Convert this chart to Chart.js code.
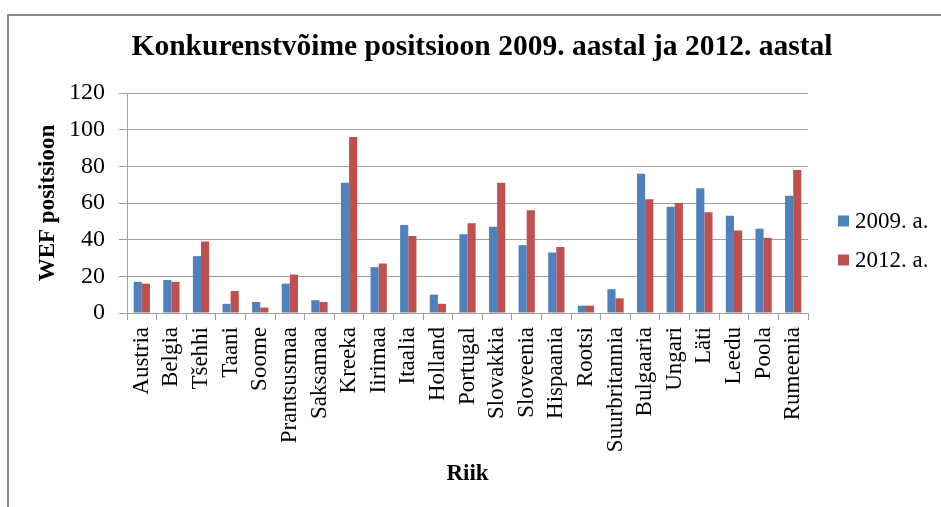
<!DOCTYPE html>
<html>
<head>
<meta charset="utf-8">
<script src="https://cdn.jsdelivr.net/npm/chart.js@4.4.1/dist/chart.umd.min.js"></script>
<style>
  html, body { margin: 0; padding: 0; background: #fff; overflow: hidden; }
  #frame { position: absolute; left: 7px; top: 14px; width: 1000px; height: 600px; border: 2px solid #8a8a8a; }
  #c { position: absolute; left: 0; top: 0; }
</style>
</head>
<body>
<div id="frame"></div>
<canvas id="c" width="941" height="507"></canvas>
<script>
// Andmed: WEF konkurentsivõime positsioon
const riigid = ['Austria', 'Belgia', 'Tšehhi', 'Taani', 'Soome', 'Prantsusmaa', 'Saksamaa', 'Kreeka',
    'Iirimaa', 'Itaalia', 'Holland', 'Portugal', 'Slovakkia', 'Sloveenia', 'Hispaania', 'Rootsi',
    'Suurbritannia', 'Bulgaaria', 'Ungari', 'Läti', 'Leedu', 'Poola', 'Rumeenia'];
const pos2009 = [17, 18, 31, 5, 6, 16, 7, 71, 25, 48, 10, 43, 47, 37, 33, 4, 13, 76, 58, 68, 53, 46, 64];
const pos2012 = [16, 17, 39, 12, 3, 21, 6, 96, 27, 42, 5, 49, 71, 56, 36, 4, 8, 62, 60, 55, 45, 41, 78];
const seeriad = ['2009. a.', '2012. a.'];
const varvid = ['#4f81bd', '#c0504d'];
const yMin = 0, yMax = 120, ySamm = 20;

const FONT = "'Liberation Serif', 'Times New Roman', serif";
const joon = '#a0a0a0';

// legend paremal, joonistatakse ise (Exceli paigutus)
const legendPlugin = {
    id: 'excelLegend',
    afterLayout(chart) {
        // pealkiri keskele kogu laiusele, mitte ainult joonise alale
        chart.titleBlock.left = 23;
        chart.titleBlock.right = 941;
    },
    afterDraw(chart) {
        const ctx = chart.ctx;
        ctx.save();
        ctx.font = '23px ' + FONT;
        ctx.textBaseline = 'middle';
        chart.data.datasets.forEach((ds, i) => {
            const y = 221 + i * 39;
            ctx.fillStyle = ds.backgroundColor;
            ctx.fillRect(838, y - 5.5, 11, 11);
            ctx.fillStyle = '#000';
            ctx.fillText(ds.label, 855, y + 1);
        });
        ctx.restore();
    }
};

new Chart(document.getElementById('c'), {
    type: 'bar',
    data: {
        labels: riigid,
        datasets: [
            { label: seeriad[0], data: pos2009, backgroundColor: varvid[0] },
            { label: seeriad[1], data: pos2012, backgroundColor: varvid[1] }
        ]
    },
    options: {
        responsive: false,
        animation: false,
        devicePixelRatio: 1,
        layout: { padding: { left: 0, right: 133, top: 0, bottom: 0 } },
        datasets: { bar: { categoryPercentage: 0.55, barPercentage: 1 } },
        plugins: {
            legend: { display: false },
            tooltip: { enabled: false },
            title: {
                display: true,
                text: 'Konkurenstvõime positsioon 2009. aastal ja 2012. aastal',
                color: '#000',
                font: { family: FONT, size: 29.5, weight: 'bold' },
                padding: { top: 30, bottom: 27.6 }
            }
        },
        scales: {
            x: {
                grid: { display: true, drawOnChartArea: false, drawTicks: true, tickLength: 7, color: joon },
                border: { display: true, color: joon, width: 1 },
                ticks: {
                    color: '#000', autoSkip: false, minRotation: 90, maxRotation: 90, padding: 7,
                    font: { family: FONT, size: 23 }
                },
                title: {
                    display: true, text: 'Riik', color: '#000',
                    font: { family: FONT, size: 23, weight: 'bold' },
                    padding: { top: 0, bottom: 19 }
                },
                afterFit(s) { s.height = 194; }
            },
            y: {
                min: yMin, max: yMax,
                grid: { color: joon, tickLength: 8 },
                border: { display: true, color: joon, width: 1 },
                ticks: { stepSize: ySamm, color: '#000', padding: 14, font: { family: FONT, size: 24 } },
                title: {
                    display: true, text: 'WEF positsioon', color: '#000',
                    font: { family: FONT, size: 23, weight: 'bold' },
                    padding: { top: 34, bottom: 0 }
                },
                afterFit(s) { s.width = 127; }
            }
        }
    },
    plugins: [legendPlugin]
});
</script>
</body>
</html>
